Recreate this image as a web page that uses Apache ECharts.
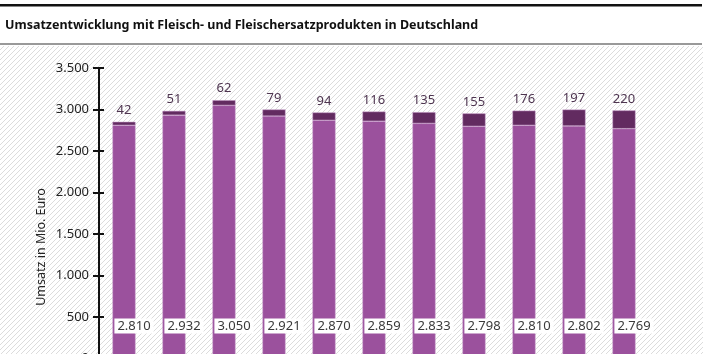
<!DOCTYPE html>
<html>
<head>
<meta charset="utf-8">
<script src="https://cdn.jsdelivr.net/npm/echarts@6/dist/echarts.min.js"></script>
<style>
  html, body { margin: 0; padding: 0; background: #fff; }
  #chart { width: 707px; height: 354px; }
</style>
</head>
<body>
<div id="chart"></div>
<script>
// Daten (Mio. Euro)
var years = ['2010', '2011', '2012', '2013', '2014', '2015', '2016', '2017', '2018', '2019', '2020'];
var fleisch = [2810, 2932, 3050, 2921, 2870, 2859, 2833, 2798, 2810, 2802, 2769];
var ersatz = [42, 51, 62, 79, 94, 116, 135, 155, 176, 197, 220];
var yTicks = [0, 500, 1000, 1500, 2000, 2500, 3000, 3500];

function formatDe(value) {
    return String(value).replace(/\B(?=(\d{3})+(?!\d))/g, '.');
}

// Schraffur-Muster für den Hintergrund
function makeHatch() {
    var c = document.createElement('canvas');
    c.width = 5;
    c.height = 5;
    var ctx = c.getContext('2d');
    ctx.fillStyle = '#ffffff';
    ctx.fillRect(0, 0, 5, 5);
    ctx.strokeStyle = '#dcdcdc';
    ctx.lineWidth = 1;
    ctx.beginPath();
    ctx.moveTo(-1, 6); ctx.lineTo(6, -1);
    ctx.moveTo(-1, 1); ctx.lineTo(1, -1);
    ctx.moveTo(4, 6); ctx.lineTo(6, 4);
    ctx.stroke();
    return c;
}

var chartDom = document.getElementById('chart');
var myChart = echarts.init(chartDom, null, { renderer: 'canvas' });

var font = '"Noto Sans", sans-serif';

var option = {
    animation: false,
    textStyle: { fontFamily: font },
    graphic: [
        { type: 'rect', z: -10, shape: { x: 0, y: 46, width: 703, height: 310 }, style: { fill: { image: makeHatch(), repeat: 'repeat' } } },
        { type: 'rect', shape: { x: 0, y: 4, width: 702, height: 2.5 }, style: { fill: '#111' } },
        { type: 'rect', shape: { x: 0, y: 43, width: 702, height: 2 }, style: { fill: '#999' } },
        {
            type: 'text', left: 5, top: 19,
            style: { text: 'Umsatzentwicklung mit Fleisch- und Fleischersatzprodukten in Deutschland', font: 'bold 12.5px "Noto Sans", sans-serif', fill: '#111' }
        },
        {
            type: 'text', x: 41, y: 247, rotation: Math.PI / 2,
            style: { text: 'Umsatz in Mio. Euro', font: '12.5px "Noto Sans", sans-serif', fill: '#222', align: 'center', verticalAlign: 'middle' }
        }
    ],
    grid: { left: 99, width: 550, top: 68, height: 290.5, containLabel: false, outerBoundsMode: 'none' },
    xAxis: {
        type: 'category',
        data: years,
        axisLine: { show: false },
        axisTick: { show: false },
        axisLabel: { show: false }
    },
    yAxis: [{
        type: 'value',
        min: yTicks[0],
        max: yTicks[yTicks.length - 1],
        interval: 500,
        axisLine: { show: true, lineStyle: { color: '#111', width: 2 } },
        axisTick: { show: true, length: 6, lineStyle: { color: '#111', width: 2 } },
        axisLabel: { fontSize: 13, color: '#222', margin: 10, formatter: function (v) { return formatDe(v); } },
        splitLine: { show: false }
    }, {
        type: 'value',
        position: 'left',
        min: yTicks[0],
        max: yTicks[yTicks.length - 1],
        interval: 500,
        axisLine: { show: false },
        axisTick: { show: true, inside: true, length: 5, lineStyle: { color: '#111', width: 2 } },
        axisLabel: { show: false },
        splitLine: { show: false }
    }],
    series: [{
        name: 'Fleisch',
        type: 'bar',
        stack: 'umsatz',
        barWidth: 23,
        data: fleisch,
        itemStyle: { color: '#9b519d', borderColor: '#c79bc8', borderWidth: 0.5 },
        label: {
            show: true,
            position: 'insideBottom',
            distance: 5,
            offset: [10, -20],
            fontSize: 13,
            color: '#3a3a3a',
            backgroundColor: '#fff',
            padding: [1, 3, 1, 3],
            formatter: function (p) { return formatDe(p.value); }
        }
    }, {
        name: 'Fleischersatz',
        type: 'bar',
        stack: 'umsatz',
        barWidth: 23,
        data: ersatz,
        itemStyle: { color: '#622b60', borderColor: '#c79bc8', borderWidth: 0.5 },
        label: {
            show: true,
            position: 'top',
            distance: 5,
            fontSize: 13,
            color: '#4e3550',
            formatter: function (p) { return formatDe(p.value); }
        }
    }]
};

myChart.setOption(option);
</script>
</body>
</html>
